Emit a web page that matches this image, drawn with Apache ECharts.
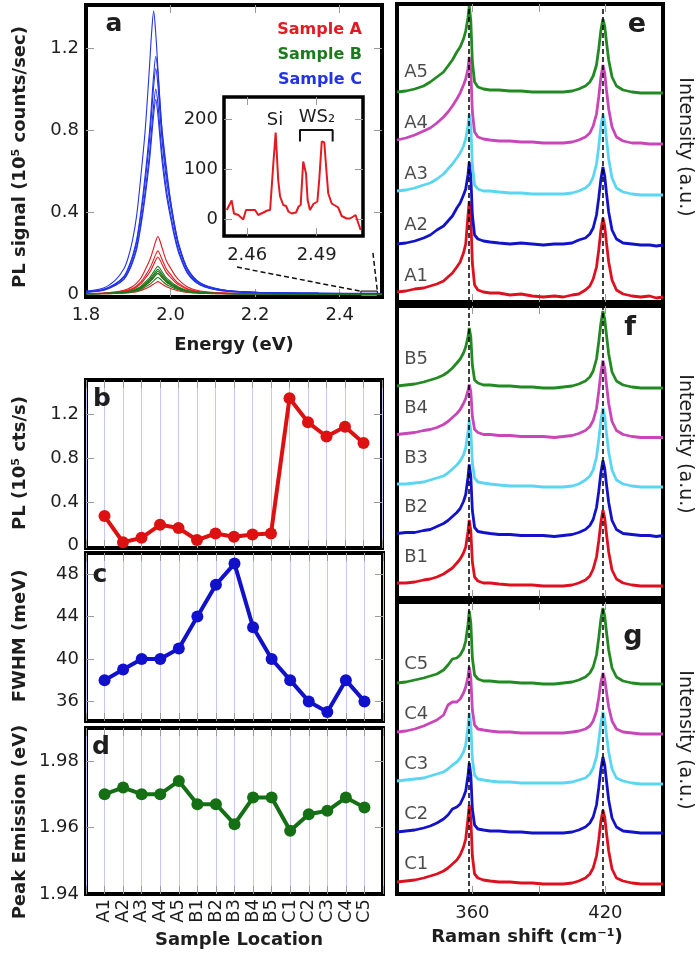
<!DOCTYPE html>
<html><head><meta charset="utf-8">
<script src="https://cdn.jsdelivr.net/npm/echarts@6/dist/echarts.min.js"></script>
<style>html,body{margin:0;padding:0;background:#fff}#c{width:697px;height:955px}</style>
</head><body><div id="c"></div>
<script>
// ---------------- DATA ----------------
const SAMPLES = ['A1','A2','A3','A4','A5','B1','B2','B3','B4','B5','C1','C2','C3','C4','C5'];
const PL_PEAK = [0.27,0.03,0.07,0.19,0.16,0.05,0.11,0.08,0.10,0.11,1.35,1.13,1.00,1.09,0.94];
const FWHM = [38,39,40,40,41,44,47,49,43,40,38,36,35,38,36];
const PEAK_E = [1.970,1.972,1.970,1.970,1.974,1.967,1.967,1.961,1.969,1.969,1.959,1.964,1.965,1.969,1.966];

// PL spectra (panel a), energy grid in eV, signal in 1e5 counts/sec
const ENERGY = [1.80,1.84,1.87,1.89,1.90,1.91,1.92,1.93,1.94,1.95,1.955,1.96,1.965,1.97,1.975,1.98,1.99,2.00,2.01,2.02,2.04,2.07,2.12,2.2,2.35,2.5];
const PL_A = [
 [.002,.004,.010,.018,.025,.036,.053,.078,.118,.162,.19,.224,.258,.28,.258,.224,.162,.126,.092,.067,.034,.014,.005,.002,.001,.001],
 [0,.001,.002,.004,.005,.008,.011,.017,.025,.035,.041,.048,.055,.06,.055,.048,.035,.027,.02,.014,.007,.003,.001,0,0,0],
 [.001,.002,.004,.007,.009,.013,.019,.028,.042,.058,.068,.08,.092,.10,.092,.08,.058,.045,.033,.024,.012,.005,.002,.001,0,0],
 [.002,.003,.007,.014,.019,.027,.04,.059,.088,.122,.143,.168,.193,.21,.193,.168,.122,.095,.069,.05,.025,.011,.004,.001,.001,0],
 [.001,.003,.006,.012,.016,.023,.034,.05,.076,.104,.122,.144,.166,.18,.166,.144,.104,.081,.059,.043,.022,.009,.003,.001,.001,0]
];
const PL_B = [
 [.001,.001,.003,.005,.007,.01,.015,.022,.034,.046,.054,.064,.074,.08,.074,.064,.046,.036,.026,.019,.01,.004,.001,0,0,0],
 [.001,.002,.004,.008,.011,.016,.023,.034,.05,.07,.082,.096,.11,.12,.11,.096,.07,.054,.04,.029,.014,.006,.002,.001,0,0],
 [.001,.002,.004,.007,.009,.013,.019,.028,.042,.058,.068,.08,.092,.10,.092,.08,.058,.045,.033,.024,.012,.005,.002,.001,0,0],
 [.001,.002,.004,.007,.01,.014,.021,.031,.046,.064,.075,.088,.101,.11,.101,.088,.064,.05,.036,.026,.013,.006,.002,.001,0,0],
 [.001,.002,.005,.009,.012,.018,.026,.038,.057,.078,.092,.108,.124,.135,.124,.108,.078,.061,.045,.032,.016,.007,.002,.001,0,0]
];
const PL_C = [
 [.014,.028,.069,.124,.179,.262,.386,.58,.80,1.104,1.27,1.38,1.27,1.104,.938,.80,.62,.455,.331,.235,.124,.055,.022,.008,.004,.003],
 [.010,.021,.051,.087,.128,.186,.267,.406,.58,.789,.928,1.067,1.16,1.08,.928,.789,.592,.452,.331,.238,.122,.052,.02,.008,.003,.002],
 [.009,.018,.044,.075,.11,.16,.23,.35,.50,.68,.80,.92,1.0,.93,.80,.68,.51,.39,.285,.205,.105,.045,.017,.007,.003,.002],
 [.010,.020,.048,.083,.121,.176,.253,.385,.55,.748,.88,1.012,1.10,1.02,.88,.748,.561,.429,.314,.226,.116,.05,.019,.008,.003,.002],
 [.009,.017,.042,.071,.105,.152,.219,.333,.475,.646,.76,.874,.95,.874,.76,.646,.485,.371,.271,.195,.10,.043,.016,.007,.003,.002]
];

// inset (Si + WS2 Raman in PL), energy eV, counts
const INSET_E = [2.4512,2.4533,2.4543,2.4562,2.4583,2.4595,2.4634,2.4648,2.4670,2.4687,2.4699,2.4713,2.4723,2.4734,2.4742,2.4756,2.4768,2.4778,2.4792,2.4811,2.4822,2.4831,2.4842,2.4854,2.4861,2.4871,2.4886,2.4903,2.4911,2.4922,2.4933,2.4943,2.4950,2.4965,2.4983,2.4993,2.5008,2.5029,2.5044,2.5058,2.5068,2.5080,2.5090];
const INSET_I = [18,37,11,8,-1,18,18,8,13,17,18,111,173,78,45,28,26,15,11,13,25,28,115,91,38,18,30,35,78,155,153,91,51,31,26,23,6,1,1,5,8,-9,-22];

// Raman spectra (panels e,f,g), intensity above each trace's baseline (a.u.)
const RAMAN_X = [326,330,334,338,341,344,347,349,351,353,354.5,356,357,358,358.6,359.3,360,361,362.5,365,368,372,377,382,387,392,397,401,405,408,411,413,414.5,416,417,418,418.9,419.7,420.5,421.5,423,425,428,432,436,440,443,446];
const RAMAN_A = [
 [6,7,9,10,12,14,17,21,25,31,36,45,54,82,97,80,35,13,8,6,5,5,3,4,2,1,2,1,3,4,8,12,19,31,48,68,80,72,55,36,18,8,4,2,1,2,0,1],
 [3,4,6,9,12,17,21,26,31,39,44,52,58,72,85,71,32,12,8,6,5,4,3,4,3,2,3,3,4,7,9,13,19,32,49,68,80,71,54,35,17,8,4,3,2,2,1,2],
 [5,6,8,11,13,17,22,27,32,38,43,50,57,70,82,70,31,11,7,5,5,4,3,3,2,2,2,2,3,5,8,12,19,32,49,70,82,74,57,37,18,8,4,2,1,1,1,1],
 [5,7,10,14,17,22,28,33,39,46,52,60,66,76,88,74,33,13,8,6,5,4,4,3,3,2,2,2,3,5,8,12,19,31,48,68,80,72,55,36,18,8,4,2,2,1,1,1],
 [2,3,5,8,12,17,22,28,34,42,47,55,63,76,88,73,32,12,7,5,4,4,3,3,2,2,2,2,3,5,8,12,18,29,45,64,75,68,52,34,17,8,4,2,1,1,1,1]
];
const RAMAN_B = [
 [4,4,5,7,8,10,13,16,19,24,28,34,40,55,67,56,25,10,6,4,4,3,2,2,2,1,1,1,2,4,7,11,18,30,46,65,77,69,53,35,17,8,4,2,1,1,1,1],
 [4,5,5,7,8,11,14,17,21,25,29,36,43,60,73,61,27,10,6,5,4,3,3,2,2,2,1,2,3,5,8,12,18,30,46,65,77,69,53,35,17,8,4,3,2,2,1,2],
 [4,4,5,6,8,10,12,15,19,23,27,33,40,56,68,57,25,10,6,5,4,3,2,2,2,1,1,1,2,4,8,12,18,31,48,68,80,72,55,36,18,8,4,2,1,1,1,1],
 [4,5,6,8,9,11,14,17,21,25,29,35,40,48,54,47,22,9,6,4,4,3,3,2,2,2,1,2,3,5,8,12,18,30,47,66,78,70,54,35,17,8,4,2,1,1,1,1],
 [3,4,5,7,9,11,14,17,21,26,30,36,42,52,61,52,24,9,6,4,4,3,3,2,2,1,1,2,3,5,8,12,18,30,47,66,78,70,54,35,17,8,4,2,1,1,1,1]
];
const RAMAN_C = [
 [3,4,5,7,9,11,14,17,21,25,30,38,46,66,80,66,29,11,7,5,4,3,3,2,2,1,1,1,2,4,7,11,17,29,45,64,75,68,52,34,16,7,4,2,1,1,1,1],
 [3,4,5,7,9,12,16,20,26,28,31,38,44,59,72,60,26,10,6,5,4,4,3,3,2,2,2,2,3,5,8,12,18,30,47,66,78,70,54,35,17,8,4,3,2,2,2,2],
 [4,5,6,7,9,11,13,16,20,23,27,33,40,58,72,60,26,10,6,5,4,3,3,2,2,2,2,2,3,5,7,11,17,28,44,62,73,66,50,33,16,7,4,2,1,1,1,1],
 [3,4,6,9,12,15,20,30,33,33,36,42,48,58,68,57,25,10,6,5,4,3,3,2,2,2,2,2,3,4,6,9,14,24,37,53,62,56,43,28,14,6,3,2,1,1,1,1],
 [2,3,5,7,9,11,15,20,26,27,30,36,44,60,74,62,27,10,6,4,4,3,3,2,2,1,1,2,3,5,8,12,18,30,47,66,77,69,53,35,17,8,4,2,1,1,1,1]
];
const RAMAN_PEAKS = [358.2, 418.9];
const X_TICKS_A = [1.8, 2.0, 2.2, 2.4];
const INSET_TICKS_X = [2.46, 2.49];
const INSET_TICKS_Y = [0, 100, 200];

// annotations (data coords)
const ZOOM_BOX = [[2.45, -0.012], [2.489, 0.014]];
const ZOOM_LINKS = [[[2.157, 0.131], [2.452, 0.012]], [[2.4786, 0.20], [2.489, 0.014]]];
const WS2_BRACKET = [[2.4828, 155], [2.4828, 178], [2.4969, 178], [2.4969, 155]];

// ---------------- STYLE ----------------
const FONT = 'DejaVu Sans';
const TXT = '#1e1e1e';
const TICKC = '#9a9a9a';
const RED = '#e31a22', GREEN = '#1b7a1b', BLUE = '#2233e6';
const RAMAN_COLORS = ['#dd1020', '#1212c8', '#5ad6f2', '#c846b8', '#238a23'];
const STACK = [{base:4, step:51, lift:22}, {base:11, step:49.5, lift:30}, {base:9, step:50, lift:21}];

const grids = [], xAxis = [], yAxis = [];
function valAxis(g, pos, o, mirror) {
  const a = {
    type:'value', gridIndex:g, position:pos, min:o.min, max:o.max,
    axisLine:{show:false, onZero:false},
    axisTick:{show: !o.noTicks, inside:true, length:8, lineStyle:{color:TICKC, width:1}},
    axisLabel:{show: !mirror && !!o.labels, color:TXT, fontFamily:FONT, fontSize:18, margin:o.margin||8},
    splitLine:{show: !mirror && !!o.split, lineStyle:{color:'#c6c6f7', width:1}}
  };
  if (o.interval !== undefined) a.interval = o.interval;
  if (o.ticks) a.axisTick.customValues = o.ticks;
  if (o.labels && o.labels !== true) a.axisLabel.customValues = o.labels;
  if (o.fmt) a.axisLabel.formatter = o.fmt;
  if (o.rotate) a.axisLabel.rotate = o.rotate;
  return a;
}
function panel(rect, xo, yo, bw) {
  const g = grids.length;
  grids.push(Object.assign({show:true, borderColor:'#000', borderWidth:bw||4, backgroundColor:'#fff', containLabel:false, outerBoundsMode:'none'}, rect));
  xAxis.push(valAxis(g, 'bottom', xo, false)); const xi = xAxis.length - 1;
  xAxis.push(valAxis(g, 'top', xo, true));
  yAxis.push(valAxis(g, 'left', yo, false)); const yi = yAxis.length - 1;
  yAxis.push(valAxis(g, 'right', yo, true));
  return {x:xi, y:yi};
}
const f1 = v => v === 0 ? '0' : v.toFixed(1);
const sampleFmt = v => { const i = Math.round(v); return (i >= 0 && i < SAMPLES.length) ? SAMPLES[i] : ''; };

const pa = panel({left:86, top:5, width:296, height:292},
  {min:1.8, max:2.5, ticks:[2.0,2.2,2.4], labels:X_TICKS_A, fmt:v=>v.toFixed(1), margin:9},
  {min:-0.015, max:1.41, ticks:[0.4,0.8,1.2], labels:[0,0.4,0.8,1.2], fmt:f1, margin:7});
const pi = panel({left:224, top:97, width:139, height:139},
  {min:2.45, max:2.51, ticks:INSET_TICKS_X, labels:INSET_TICKS_X, fmt:v=>v.toFixed(2), margin:10},
  {min:-34, max:244, ticks:INSET_TICKS_Y, labels:INSET_TICKS_Y, margin:6}, 3.5);
const catX = {min:-1, max:15, interval:1, split:true};
const pb = panel({left:86, top:380, width:296, height:168}, catX,
  {min:-0.023, max:1.518, ticks:[0.4,0.8,1.2], labels:[0,0.4,0.8,1.2], fmt:f1, margin:7});
const pc = panel({left:86, top:553, width:297, height:168}, catX,
  {min:34.15, max:50, ticks:[36,40,44,48], labels:[36,40,44,48], margin:7});
const pd = panel({left:86, top:728, width:297, height:166},
  Object.assign({labels:true, fmt:sampleFmt, rotate:90, margin:5}, catX),
  {min:1.94, max:1.9899, ticks:[1.96,1.98], labels:[1.94,1.96,1.98], fmt:v=>v.toFixed(2), margin:7});
const ramanRects = [{left:397, top:4, width:266, height:298}, {left:397, top:306, width:266, height:292}, {left:397, top:602, width:266, height:292}];
const pr = ramanRects.map((r, k) => panel(r,
  {min:326, max:446, ticks:[360,390,420], labels: k === 2 ? [360,420] : undefined, margin:10},
  {min:0, max:r.height, noTicks:true}));

const series = [];
function line(p, data, color, width, extra) {
  series.push(Object.assign({type:'line', xAxisIndex:p.x, yAxisIndex:p.y, data, symbol:'none',
    lineStyle:{color, width}, itemStyle:{color}, silent:true, animation:false}, extra||{}));
}
// panel a
[[PL_A, RED], [PL_B, GREEN], [PL_C, BLUE]].forEach(([set, col]) =>
  set.forEach(vals => line(pa, ENERGY.map((e, i) => [e, vals[i]]), col, 1.1, {smooth:0.3})));
series[series.length - 1].markArea = {silent:true, itemStyle:{color:'rgba(215,215,215,0.7)', borderColor:'#000', borderWidth:1},
  data:[[{coord:ZOOM_BOX[0]}, {coord:ZOOM_BOX[1]}]]};
series[series.length - 1].markLine = {silent:true, symbol:['none','none'], label:{show:false}, animation:false,
  lineStyle:{type:[5,3], color:'#111', width:1.5},
  data: ZOOM_LINKS.map(l => [{coord:l[0]}, {coord:l[1]}])};
// inset
line(pi, INSET_E.map((e, i) => [e, INSET_I[i]]), RED, 2);
line(pi, WS2_BRACKET, '#111', 2);
// b, c, d
line(pb, PL_PEAK.map((v, i) => [i, v]), '#dd1111', 4, {symbol:'circle', symbolSize:12});
line(pc, FWHM.map((v, i) => [i, v]), '#1111cc', 4, {symbol:'circle', symbolSize:12});
line(pd, PEAK_E.map((v, i) => [i, v]), '#157015', 4, {symbol:'circle', symbolSize:12});
// Raman
[RAMAN_A, RAMAN_B, RAMAN_C].forEach((set, k) => {
  const st = STACK[k], p = pr[k];
  set.forEach((vals, i) => line(p, RAMAN_X.map((x, j) => [x, vals[j] + st.base + i * st.step]), RAMAN_COLORS[i], 2.8));
  series[series.length - 1].markLine = {silent:true, symbol:['none','none'], label:{show:false}, animation:false,
    lineStyle:{type:[5,3], color:'#000', width:1.5}, data: RAMAN_PEAKS.map(x => ({xAxis:x}))};
  series.push({type:'scatter', xAxisIndex:p.x, yAxisIndex:p.y, symbolSize:1, itemStyle:{color:'rgba(0,0,0,0)'}, silent:true,
    data: set.map((v, i) => ({name: SAMPLES[k * 5 + i], value:[329, st.base + i * st.step + st.lift]})),
    label:{show:true, position:'right', distance:0, formatter:'{b}', color:TXT, fontFamily:FONT, fontSize:18}});
});

function txt(text, x, y, o) {
  o = o || {};
  return {type:'text', x, y, rotation:o.rot || 0, z:100, silent:true,
    style:{text, fill:o.color || TXT, font:(o.bold === false ? '' : 'bold ') + (o.size || 18) + 'px "' + FONT + '"',
      align:o.align || 'center', verticalAlign:'middle', textAlign:o.align || 'center', textVerticalAlign:'middle'}};
}
const R90 = Math.PI / 2;
const graphic = [
  txt('PL signal (10⁵ counts/sec)', 20, 157, {rot:R90}),
  txt('Energy (eV)', 234, 345),
  txt('PL (10⁵ cts/s)', 20, 463, {rot:R90}),
  txt('FWHM (meV)', 20, 636, {rot:R90}),
  txt('Peak Emission (eV)', 20, 822, {rot:R90}),
  txt('Sample Location', 239, 940),
  txt('Raman shift (cm⁻¹)', 527, 937),
  txt('Intensity (a.u.)', 685, 147, {rot:-R90, bold:false, size:19}),
  txt('Intensity (a.u.)', 685, 444, {rot:-R90, bold:false, size:19}),
  txt('Intensity (a.u.)', 685, 740, {rot:-R90, bold:false, size:19}),
  txt('a', 114, 24, {size:25}), txt('b', 102, 399, {size:25}), txt('c', 100, 575, {size:25}), txt('d', 101, 747, {size:25}),
  txt('e', 637, 25, {size:27}), txt('f', 630, 328, {size:27}), txt('g', 633, 637, {size:27}),
  txt('Sample A', 362, 30, {color:RED, size:16, align:'right'}),
  txt('Sample B', 362, 55, {color:GREEN, size:16, align:'right'}),
  txt('Sample C', 362, 80, {color:BLUE, size:16, align:'right'}),
  txt('Si', 275, 120, {bold:false}),
  txt('WS₂', 317, 117, {bold:false})
];

const chart = echarts.init(document.getElementById('c'), null, {renderer:'canvas'});
chart.setOption({animation:false, backgroundColor:'#fff', grid:grids, xAxis, yAxis, series, graphic});
</script></body></html>
